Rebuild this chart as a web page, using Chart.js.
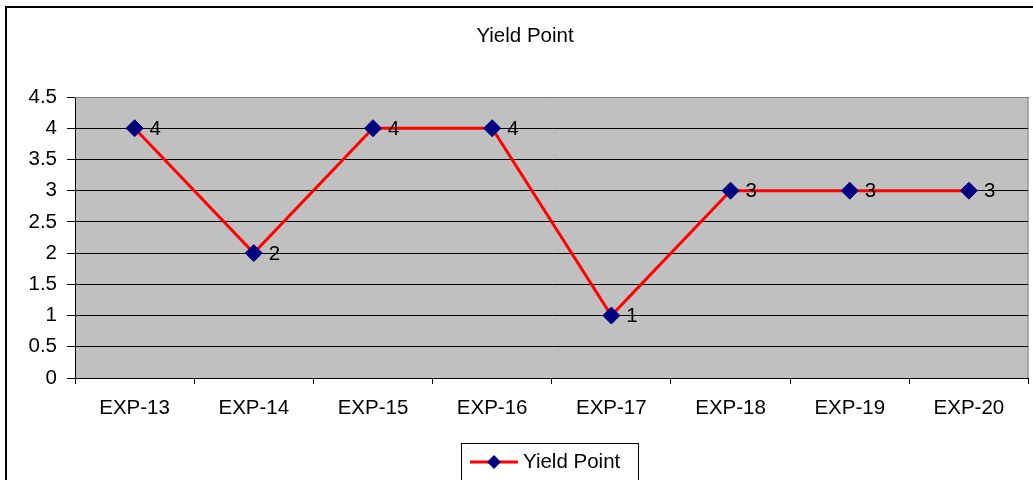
<!DOCTYPE html>
<html>
<head>
<meta charset="utf-8">
<script src="https://cdn.jsdelivr.net/npm/chart.js@4"></script>
<style>
  html, body { margin: 0; padding: 0; background: #ffffff; overflow: hidden; }
  #wrap { width: 1033px; height: 480px; position: relative; overflow: hidden; }
  #yieldChart { display: block; }
</style>
</head>
<body>
<div id="wrap"><canvas id="yieldChart" width="1038" height="480"></canvas></div>
<script>
// データ
const categories = ["EXP-13", "EXP-14", "EXP-15", "EXP-16", "EXP-17", "EXP-18", "EXP-19", "EXP-20"];
const yieldValues = [4, 2, 4, 4, 1, 3, 3, 3];
const yTicks = [0, 0.5, 1, 1.5, 2, 2.5, 3, 3.5, 4, 4.5];
const chartTitle = "Yield Point";
const seriesName = "Yield Point";

const FONT = "Arial, 'Liberation Sans', sans-serif";
const FONT_SIZE = 20.5;

// 外枠・プロット背景・タイトル・凡例・データラベルを描くプラグイン
const excelStyle = {
  id: "excelStyle",
  beforeDraw(chart) {
    const { ctx, chartArea: a } = chart;
    ctx.save();
    // 外枠
    ctx.strokeStyle = "#000000";
    ctx.lineWidth = 2;
    ctx.strokeRect(6, 7, 1040, 500);
    // プロット背景
    ctx.fillStyle = "#c0c0c0";
    ctx.fillRect(a.left, a.top, a.right - a.left, a.bottom - a.top);
    ctx.restore();
  },
  afterDatasetsDraw(chart) {
    const { ctx, chartArea: a } = chart;
    ctx.save();
    // プロット枠（上と右はグレー）
    ctx.strokeStyle = "#808080";
    ctx.lineWidth = 1;
    ctx.beginPath();
    ctx.moveTo(a.left, a.top + 0.5);
    ctx.lineTo(a.right - 0.5, a.top + 0.5);
    ctx.lineTo(a.right - 0.5, a.bottom);
    ctx.stroke();

    // データラベル
    ctx.fillStyle = "#000000";
    ctx.font = FONT_SIZE + "px " + FONT;
    ctx.textAlign = "left";
    ctx.textBaseline = "middle";
    const meta = chart.getDatasetMeta(0);
    meta.data.forEach((pt, i) => {
      ctx.fillText(String(yieldValues[i]), pt.x + 15, pt.y + 1);
    });

    // タイトル
    ctx.textAlign = "center";
    ctx.fillText(chartTitle, 525, 36);

    // 凡例
    ctx.strokeStyle = "#000000";
    ctx.lineWidth = 1;
    ctx.strokeRect(461.5, 443.5, 177, 40);
    ctx.strokeStyle = "#ff0000";
    ctx.lineWidth = 3;
    ctx.beginPath();
    ctx.moveTo(470, 462);
    ctx.lineTo(518, 462);
    ctx.stroke();
    ctx.fillStyle = "#000080";
    ctx.beginPath();
    ctx.moveTo(494, 455);
    ctx.lineTo(501, 462);
    ctx.lineTo(494, 469);
    ctx.lineTo(487, 462);
    ctx.closePath();
    ctx.fill();
    ctx.fillStyle = "#000000";
    ctx.textAlign = "left";
    ctx.fillText(seriesName, 523, 462);
    ctx.restore();
  },
};

const ctx = document.getElementById("yieldChart").getContext("2d");
new Chart(ctx, {
  type: "line",
  data: {
    labels: categories,
    datasets: [
      {
        label: seriesName,
        data: yieldValues,
        borderColor: "#ff0000",
        borderWidth: 3,
        tension: 0,
        pointStyle: "rectRot",
        pointRadius: 8.5,
        pointHoverRadius: 8.5,
        pointBackgroundColor: "#000080",
        pointBorderColor: "#000080",
        pointBorderWidth: 1,
      },
    ],
  },
  options: {
    responsive: false,
    animation: false,
    layout: { padding: { left: 0, top: 97, right: 5, bottom: 0 } },
    plugins: {
      legend: { display: false },
      title: { display: false },
      tooltip: { enabled: false },
    },
    scales: {
      x: {
        offset: true,
        grid: {
          offset: true,
          drawOnChartArea: false,
          color: "#000000",
          tickLength: 6,
        },
        border: { color: "#000000", width: 1 },
        ticks: {
          color: "#000000",
          font: { family: FONT, size: FONT_SIZE },
          padding: 12,
          maxRotation: 0,
        },
        afterFit(scale) { scale.height = 102; },
      },
      y: {
        min: 0,
        max: 4.5,
        afterBuildTicks(scale) {
          scale.ticks = yTicks.map((v) => ({ value: v }));
        },
        grid: { color: "#000000", lineWidth: 1, tickLength: 8 },
        border: { color: "#000000", width: 1 },
        ticks: {
          color: "#000000",
          font: { family: FONT, size: FONT_SIZE },
          padding: 10,
          callback: (v) => String(v),
        },
        afterFit(scale) { scale.width = 75; },
      },
    },
  },
  plugins: [excelStyle],
});
</script>
</body>
</html>
